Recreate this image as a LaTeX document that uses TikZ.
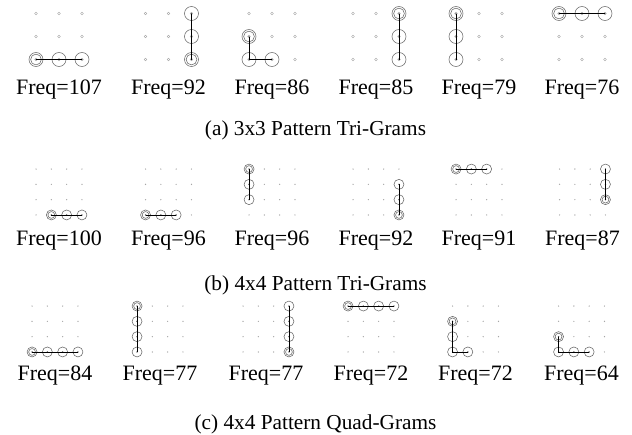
\documentclass[tikz,border=0pt]{standalone}
\usepackage{fontspec}
\setmainfont{Liberation Serif}
\tikzset{
  dotA/.style={draw=gray!75, line width=0.35pt},
  dotB/.style={fill=gray!70},
  ring/.style={draw=black!60, line width=0.55pt},
  link/.style={draw=black, line width=0.7pt},
  freq/.style={anchor=base, inner sep=0pt, font=\fontsize{22}{26}\selectfont},
  capt/.style={anchor=base, inner sep=0pt, font=\fontsize{21.3}{25}\selectfont},
}
% grid of points: name, size n, spacing, centre x, centre y, dot style, dot radius
\newcommand\patgrid[7]{%
  \foreach \i in {1,...,#2}{\foreach \j in {1,...,#2}{%
    \coordinate (#1-\i-\j) at ({#4+(\i-(#2+1)/2)*#3},{#5+(\j-(#2+1)/2)*#3});
    \path[#6] (#1-\i-\j) circle (#7);
  }}}
% a circled cell: coordinate, radius
\newcommand\cell[2]{%
  \draw[ring] (#1) circle (#2);
  \fill[black!70] (#1) circle (0.7pt);}
% the starting cell, drawn with a double ring
\newcommand\startcell[2]{%
  \draw[ring] (#1) circle (#2);
  \draw[ring] (#1) circle ({#2-1.6});
  \fill[black!70] (#1) circle (0.7pt);}
\begin{document}
\begin{tikzpicture}[x=1pt,y=-1pt]
\useasboundingbox (0,0) rectangle (632,434);

% ---------- (a) 3x3 tri-grams ----------
\def\ra{7}
\patgrid{a1}{3}{23}{59}{36.5}{dotA}{1.3pt}
\patgrid{a2}{3}{23}{168.5}{36.5}{dotA}{1.3pt}
\patgrid{a3}{3}{23}{272}{36.5}{dotA}{1.3pt}
\patgrid{a4}{3}{23}{376}{36.5}{dotA}{1.3pt}
\patgrid{a5}{3}{23}{479}{36.5}{dotA}{1.3pt}
\patgrid{a6}{3}{23}{582}{36.5}{dotA}{1.3pt}

\startcell{a1-1-3}{\ra}\cell{a1-2-3}{\ra}\cell{a1-3-3}{\ra}
\draw[link] (a1-1-3) -- (a1-3-3);
\startcell{a2-3-3}{\ra}\cell{a2-3-2}{\ra}\cell{a2-3-1}{\ra}
\draw[link] (a2-3-3) -- (a2-3-1);
\startcell{a3-1-2}{\ra}\cell{a3-1-3}{\ra}\cell{a3-2-3}{\ra}
\draw[link] (a3-1-2) -- (a3-1-3) -- (a3-2-3);
\startcell{a4-3-1}{\ra}\cell{a4-3-2}{\ra}\cell{a4-3-3}{\ra}
\draw[link] (a4-3-1) -- (a4-3-3);
\startcell{a5-1-1}{\ra}\cell{a5-1-2}{\ra}\cell{a5-1-3}{\ra}
\draw[link] (a5-1-1) -- (a5-1-3);
\startcell{a6-1-1}{\ra}\cell{a6-2-1}{\ra}\cell{a6-3-1}{\ra}
\draw[link] (a6-1-1) -- (a6-3-1);

\node[freq] (fa1) at (59,94) {Freq=107};
\node[freq] (fa2) at (168.5,94) {Freq=92};
\node[freq] (fa3) at (272,94) {Freq=86};
\node[freq] (fa4) at (376,94) {Freq=85};
\node[freq] (fa5) at (479,94) {Freq=79};
\node[freq] (fa6) at (582,94) {Freq=76};
\node[capt] (ca) at (315.5,135) {(a) 3x3 Pattern Tri-Grams};

% ---------- (b) 4x4 tri-grams ----------
\def\rb{5}
\patgrid{b1}{4}{15.3}{59}{192}{dotB}{0.7pt}
\patgrid{b2}{4}{15.3}{168.5}{192}{dotB}{0.7pt}
\patgrid{b3}{4}{15.3}{272}{192}{dotB}{0.7pt}
\patgrid{b4}{4}{15.3}{376}{192}{dotB}{0.7pt}
\patgrid{b5}{4}{15.3}{479}{192}{dotB}{0.7pt}
\patgrid{b6}{4}{15.3}{582.5}{192}{dotB}{0.7pt}

\startcell{b1-2-4}{\rb}\cell{b1-3-4}{\rb}\cell{b1-4-4}{\rb}
\draw[link] (b1-2-4) -- (b1-4-4);
\startcell{b2-1-4}{\rb}\cell{b2-2-4}{\rb}\cell{b2-3-4}{\rb}
\draw[link] (b2-1-4) -- (b2-3-4);
\startcell{b3-1-1}{\rb}\cell{b3-1-2}{\rb}\cell{b3-1-3}{\rb}
\draw[link] (b3-1-1) -- (b3-1-3);
\startcell{b4-4-4}{\rb}\cell{b4-4-3}{\rb}\cell{b4-4-2}{\rb}
\draw[link] (b4-4-4) -- (b4-4-2);
\startcell{b5-1-1}{\rb}\cell{b5-2-1}{\rb}\cell{b5-3-1}{\rb}
\draw[link] (b5-1-1) -- (b5-3-1);
\startcell{b6-4-3}{\rb}\cell{b6-4-2}{\rb}\cell{b6-4-1}{\rb}
\draw[link] (b6-4-3) -- (b6-4-1);

\node[freq] (fb1) at (59,245) {Freq=100};
\node[freq] (fb2) at (168.5,245) {Freq=96};
\node[freq] (fb3) at (272,245) {Freq=96};
\node[freq] (fb4) at (376,245) {Freq=92};
\node[freq] (fb5) at (479,245) {Freq=91};
\node[freq] (fb6) at (582.5,245) {Freq=87};
\node[capt] (cb) at (315.5,290) {(b) 4x4 Pattern Tri-Grams};

% ---------- (c) 4x4 quad-grams ----------
\patgrid{c1}{4}{15.3}{55}{329}{dotB}{0.7pt}
\patgrid{c2}{4}{15.3}{160}{329}{dotB}{0.7pt}
\patgrid{c3}{4}{15.3}{266}{329}{dotB}{0.7pt}
\patgrid{c4}{4}{15.3}{371}{329}{dotB}{0.7pt}
\patgrid{c5}{4}{15.3}{475.5}{329}{dotB}{0.7pt}
\patgrid{c6}{4}{15.3}{581.5}{329}{dotB}{0.7pt}

\startcell{c1-1-4}{\rb}\cell{c1-2-4}{\rb}\cell{c1-3-4}{\rb}\cell{c1-4-4}{\rb}
\draw[link] (c1-1-4) -- (c1-4-4);
\startcell{c2-1-1}{\rb}\cell{c2-1-2}{\rb}\cell{c2-1-3}{\rb}\cell{c2-1-4}{\rb}
\draw[link] (c2-1-1) -- (c2-1-4);
\startcell{c3-4-4}{\rb}\cell{c3-4-3}{\rb}\cell{c3-4-2}{\rb}\cell{c3-4-1}{\rb}
\draw[link] (c3-4-4) -- (c3-4-1);
\startcell{c4-1-1}{\rb}\cell{c4-2-1}{\rb}\cell{c4-3-1}{\rb}\cell{c4-4-1}{\rb}
\draw[link] (c4-1-1) -- (c4-4-1);
\startcell{c5-1-2}{\rb}\cell{c5-1-3}{\rb}\cell{c5-1-4}{\rb}\cell{c5-2-4}{\rb}
\draw[link] (c5-1-2) -- (c5-1-4) -- (c5-2-4);
\startcell{c6-1-3}{\rb}\cell{c6-1-4}{\rb}\cell{c6-2-4}{\rb}\cell{c6-3-4}{\rb}
\draw[link] (c6-1-3) -- (c6-1-4) -- (c6-3-4);

\node[freq] (fc1) at (55,380) {Freq=84};
\node[freq] (fc2) at (160,380) {Freq=77};
\node[freq] (fc3) at (266,380) {Freq=77};
\node[freq] (fc4) at (371,380) {Freq=72};
\node[freq] (fc5) at (475.5,380) {Freq=72};
\node[freq] (fc6) at (581.5,380) {Freq=64};
\node[capt] (cc) at (315.5,429) {(c) 4x4 Pattern Quad-Grams};
\end{tikzpicture}
\end{document}
